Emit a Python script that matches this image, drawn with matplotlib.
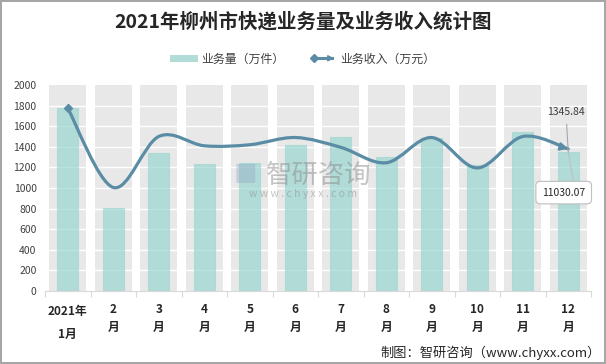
import numpy as np
from matplotlib import pyplot as plt
from matplotlib.path import Path
from matplotlib.patches import PathPatch, Patch, FancyArrowPatch
from matplotlib.lines import Line2D
from matplotlib.legend_handler import HandlerBase

plt.rcParams['font.family'] = ['Noto Sans CJK SC', 'DejaVu Sans']

# data
months = ['2021年\n1月', '2\n月', '3\n月', '4\n月', '5\n月', '6\n月',
          '7\n月', '8\n月', '9\n月', '10\n月', '11\n月', '12\n月']
volume = [1775, 805, 1340, 1230, 1245, 1420, 1495, 1300, 1490, 1225, 1540, 1345.84]  # 万件
revenue = [1775, 1005, 1500, 1410, 1420, 1490, 1395, 1245, 1490, 1195, 1500, 1380]  # 万元 (as drawn)
yticks = [0, 200, 400, 600, 800, 1000, 1200, 1400, 1600, 1800, 2000]
label_top = '1345.84'
label_box = '11030.07'

bar_color = '#8ED3CC'
line_color = '#5A8DA5'
band_color = '#E8E8E8'
ymax = yticks[-1]


def smooth_path(xs, ys):
    # catmull-rom style bezier through the points (like excel smoothed line)
    pts = np.column_stack([xs, ys]).astype(float)
    ext = np.vstack([pts[0], pts, pts[-1]])
    verts = [pts[0]]
    codes = [Path.MOVETO]
    for i in range(1, len(ext) - 2):
        p0, p1, p2, p3 = ext[i - 1], ext[i], ext[i + 1], ext[i + 2]
        c1 = p1 + (p2 - p0) / 6.0
        c2 = p2 - (p3 - p1) / 6.0
        verts += [c1, c2, p2]
        codes += [Path.CURVE4] * 3
    return Path(verts, codes), verts


class ArrowLineHandler(HandlerBase):
    def create_artists(self, legend, orig_handle, xdescent, ydescent,
                       width, height, fontsize, trans):
        y = height / 2 - ydescent
        x0 = -xdescent + 2
        x1 = width - xdescent
        ln = Line2D([x0, x1 - 4], [y, y], color=line_color, lw=2.2, transform=trans)
        dm = Line2D([x0 + 1], [y], marker='D', ms=4.5, color=line_color, transform=trans)
        ar = FancyArrowPatch((x1 - 8, y), (x1, y), arrowstyle='-|>', mutation_scale=9,
                             color=line_color, lw=1, transform=trans)
        return [ln, dm, ar]


fig = plt.figure(figsize=(6.06, 3.64), dpi=100, facecolor='white',
                 edgecolor='#A6A6A6', linewidth=1.5)
ax = fig.add_axes([45 / 606, 1 - 291 / 364, 546 / 606, 206 / 364])

x = np.arange(len(months))

# gray bands behind each month
ax.bar(x, [ymax] * len(x), width=0.82, color=band_color, zorder=0)
for t in yticks[1:-1]:
    ax.axhline(t, color='white', lw=1, zorder=1)

ax.bar(x, volume, width=0.46, color=bar_color, alpha=0.62,
       edgecolor='#9CD6D0', linewidth=0.8, zorder=2)

path, verts = smooth_path(x, revenue)
ax.add_patch(PathPatch(path, facecolor='none', edgecolor=line_color, lw=2.3,
                       capstyle='round', zorder=3))
ax.plot([x[0]], [revenue[0]], marker='D', ms=4.5, color=line_color, zorder=4)
end = np.array(verts[-1])
c2 = np.array(verts[-2])
ax.annotate('', xy=end, xytext=end - 0.35 * (end - c2),
            arrowprops=dict(arrowstyle='-|>', color=line_color, lw=1.5,
                            mutation_scale=12, shrinkA=0, shrinkB=0), zorder=4)

# labels for december
ax.annotate(label_top, xy=(x[-1], volume[-1]), xytext=(x[-1] - 0.05, 1735),
            ha='center', va='center', fontsize=7.5, color='#404040',
            arrowprops=dict(arrowstyle='-', color='#A6A6A6', lw=0.8,
                            shrinkA=3, shrinkB=0), zorder=5)
ax.annotate(label_box, xy=(x[-1], volume[-1]), xytext=(x[-1] - 0.1, 955),
            ha='center', va='center', fontsize=7.5, color='#262626',
            bbox=dict(boxstyle='round,pad=0.6,rounding_size=0.4', fc='white',
                      ec='#BFBFBF', lw=0.8),
            arrowprops=dict(arrowstyle='-', color='#BFBFBF', lw=0.8,
                            shrinkA=0, shrinkB=0, relpos=(0.75, 1)), zorder=5)

ax.set_xlim(-0.5, len(x) - 0.5)
ax.set_ylim(0, ymax)
ax.set_yticks(yticks)
ax.tick_params(axis='y', length=0, labelsize=7.5, labelcolor='#404040', pad=6)
ax.set_xticks(x)
ax.set_xticklabels([])
ax.set_xticks(np.arange(len(x) + 1) - 0.5, minor=True)
ax.tick_params(axis='x', which='major', length=0)
ax.tick_params(axis='x', which='minor', length=4, color='#D9D9D9', width=0.8)
for s in ['left', 'right', 'top']:
    ax.spines[s].set_visible(False)
ax.spines['bottom'].set_color('#D9D9D9')
ax.spines['bottom'].set_linewidth(0.8)

for xi, lab in zip(x, months):
    if xi == 0:
        ax.text(xi, -135, lab, ha='center', va='top', fontsize=8.5,
                fontweight='bold', color='#262626', linespacing=2.05)
    else:
        ax.text(xi, -112, lab, ha='center', va='top', fontsize=8.5,
                fontweight='bold', color='#262626', linespacing=1.55)

# watermark
ax.text(5.52, 1126, '智研咨询', ha='center', va='center', fontsize=19,
        color='#8C8C8C', alpha=0.5, zorder=6)
ax.text(5.17, 942, 'w w w . c h y x x . c o m', ha='center', va='center',
        fontsize=7.5, color='#8C8C8C', alpha=0.5, zorder=6)
ax.text(3.9, 1126, '■', ha='center', va='center', fontsize=17,
        color='#8FA0C0', alpha=0.35, zorder=6)

fig.text(0.5, 1 - 22 / 364, '2021年柳州市快递业务量及业务收入统计图', ha='center',
         va='center', fontsize=14, fontweight='bold', color='#262626')

handles = [Patch(facecolor='#B2DCD8', edgecolor='none'), Line2D([], [])]
fig.legend(handles, ['业务量（万件）', '业务收入（万元）'], ncol=2,
           loc='center', bbox_to_anchor=(0.5, 1 - 59 / 364), frameon=False,
           fontsize=8.6, handlelength=2.3, handleheight=0.55, handletextpad=0.3,
           columnspacing=2.1, labelcolor='#404040',
           handler_map={Line2D: ArrowLineHandler()})

fig.text(601 / 606, 1 - 353 / 364, '制图：智研咨询（www.chyxx.com）', ha='right',
         va='center', fontsize=9.5, color='#262626')

fig.savefig('out.png', dpi=100, facecolor=fig.get_facecolor(),
            edgecolor=fig.get_edgecolor())
